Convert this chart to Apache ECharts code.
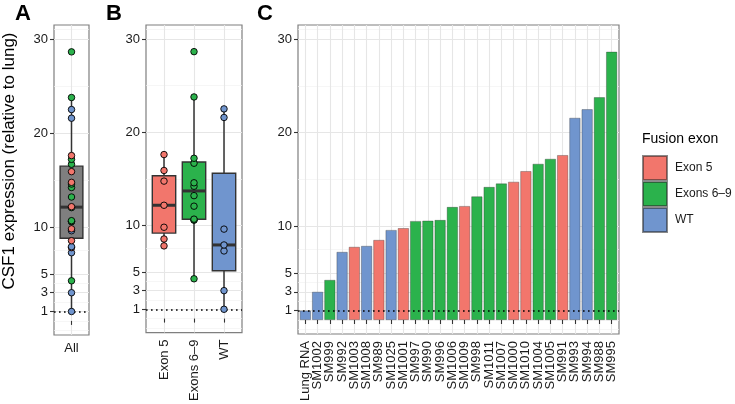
<!DOCTYPE html>
<html><head><meta charset="utf-8">
<script src="https://cdn.jsdelivr.net/npm/echarts@6/dist/echarts.min.js"></script>
<style>html,body{margin:0;padding:0;background:#fff}#c{width:735px;height:404px}</style>
</head><body><div id="c"></div>
<script>
const samples = ['Lung RNA','SM1002','SM999','SM992','SM1003','SM1008','SM989','SM1025','SM1001','SM997','SM990','SM996','SM1006','SM1009','SM998','SM1011','SM1007','SM1000','SM1010','SM1004','SM1005','SM991','SM993','SM994','SM988','SM995'];
const values = [1.0,3.0,4.27,7.26,7.8,7.9,8.54,9.6,9.8,10.56,10.6,10.67,12.06,12.16,13.19,14.2,14.57,14.75,15.89,16.67,17.2,17.6,21.58,22.5,23.78,28.64];
const groups = ['WT','WT','Exons 6–9','WT','Exon 5','WT','Exon 5','WT','Exon 5','Exons 6–9','Exons 6–9','Exons 6–9','Exons 6–9','Exon 5','Exons 6–9','Exons 6–9','Exons 6–9','Exon 5','Exon 5','Exons 6–9','Exons 6–9','Exon 5','WT','WT','Exons 6–9','Exons 6–9'];
const groupNames = ['Exon 5','Exons 6–9','WT'];
const groupColors = ['#F2766C','#2BB24C','#7095CE'];
const allLabel = ['All'];
const yTicks = [1,3,5,10,20,30];
const yMinor = [-1,0,2,4,7.5,15,25,31];

const FONT = 'Liberation Sans, Arial, Helvetica, sans-serif';
const colorOf = g => groupColors[groupNames.indexOf(g)];

function q7(sorted, p) {
  const h = (sorted.length - 1) * p, lo = Math.floor(h), hi = Math.ceil(h);
  return sorted[lo] + (h - lo) * (sorted[hi] - sorted[lo]);
}
function boxStats(arr) {
  const s = arr.slice().sort((a, b) => a - b);
  const q1 = q7(s, 0.25), med = q7(s, 0.5), q3 = q7(s, 0.75), iqr = q3 - q1;
  const lo = Math.min(...s.filter(v => v >= q1 - 1.5 * iqr));
  const hi = Math.max(...s.filter(v => v <= q3 + 1.5 * iqr));
  return [lo, q1, med, q3, hi];
}

const boxA = [[1, ...boxStats(values)]];
const boxAColors = ['#7f7f7f'];
const boxB = groupNames.map((g, i) => [i + 1, ...boxStats(values.filter((v, j) => groups[j] === g))]);

function makeRender(colors) {
  return function (params, api) {
    const x = api.value(0), hw = 0.39;
    const pLo = api.coord([x, api.value(1)]);
    const pQ1 = api.coord([x - hw, api.value(2)]);
    const pMed = api.coord([x - hw, api.value(3)]);
    const pMedR = api.coord([x + hw, api.value(3)]);
    const pQ3 = api.coord([x - hw, api.value(4)]);
    const pQ3R = api.coord([x + hw, api.value(4)]);
    const pHi = api.coord([x, api.value(5)]);
    const st = { stroke: '#333', lineWidth: 1.5 };
    return { type: 'group', children: [
      { type: 'line', shape: { x1: pLo[0], y1: pLo[1], x2: pLo[0], y2: pQ1[1] }, style: st },
      { type: 'line', shape: { x1: pHi[0], y1: pHi[1], x2: pHi[0], y2: pQ3[1] }, style: st },
      { type: 'rect', shape: { x: pQ3[0], y: pQ3[1], width: pQ3R[0] - pQ3[0], height: pQ1[1] - pQ3[1] },
        style: { fill: colors[params.dataIndex], stroke: '#333', lineWidth: 1.4 } },
      { type: 'line', shape: { x1: pMed[0], y1: pMed[1], x2: pMedR[0], y2: pMed[1] }, style: { stroke: '#333', lineWidth: 3 } }
    ]};
  };
}

const grids = [
  { left: 54, top: 25, width: 35, height: 310 },
  { left: 146, top: 25, width: 96, height: 310 },
  { left: 298, top: 25, width: 321, height: 310 }
].map(g => Object.assign(g, { show: true, borderColor: '#7f7f7f', borderWidth: 1.2, backgroundColor: '#fff', containLabel: false }));

const yAxes = [];
[0, 1, 2].forEach(i => {
  yAxes.push({
    type: 'value', gridIndex: i, min: -1.5, max: 31.5,
    axisLine: { show: false },
    axisTick: { show: true, customValues: yTicks, length: 4, lineStyle: { color: '#333', width: 1.1 } },
    axisLabel: { customValues: yTicks, fontSize: 13, color: '#1a1a1a', margin: 6, fontFamily: FONT, showMinLabel: true, showMaxLabel: true },
    splitLine: { show: true, lineStyle: { color: '#e6e6e6', width: 1.1 } }
  });
  yAxes.push({
    type: 'value', gridIndex: i, min: -1.5, max: 31.5,
    axisLine: { show: false },
    axisTick: { show: false, customValues: yMinor },
    axisLabel: { show: false, customValues: yMinor },
    splitLine: { show: true, lineStyle: { color: '#f2f2f2', width: 0.7 } }
  });
});

// one x axis; 'which' selects all positions, or only odd / even ones (to keep dense rotated labels from being culled)
function xAxis(i, labels, rotate, which) {
  const n = labels.length;
  let cv = labels.map((_, k) => k + 1);
  if (which === 'odd') cv = cv.filter(v => v % 2 === 1);
  if (which === 'even') cv = cv.filter(v => v % 2 === 0);
  return {
    type: 'value', gridIndex: i, min: 0.4, max: n + 0.6, position: 'bottom',
    axisLine: { show: false },
    axisTick: { show: true, customValues: cv, length: 4, lineStyle: { color: '#333', width: 1.1 } },
    axisLabel: { customValues: cv, rotate: rotate, fontSize: 13, color: '#1a1a1a', margin: 7, fontFamily: FONT,
      showMinLabel: true, showMaxLabel: true,
      formatter: v => labels[Math.round(v) - 1] },
    splitLine: { show: true, lineStyle: { color: '#e6e6e6', width: 1.1 } }
  };
}

const hline = { silent: true, symbol: 'none', label: { show: false },
  lineStyle: { color: '#000', type: [1.6, 3.4], width: 1.6 }, data: [{ yAxis: 1 }] };

const series = [
  { type: 'custom', xAxisIndex: 0, yAxisIndex: 0, renderItem: makeRender(boxAColors), data: boxA,
    encode: { x: 0, y: [1, 2, 3, 4, 5] }, z: 2, markLine: hline },
  { type: 'custom', xAxisIndex: 1, yAxisIndex: 2, renderItem: makeRender(groupColors), data: boxB,
    encode: { x: 0, y: [1, 2, 3, 4, 5] }, z: 2, markLine: hline },
  { type: 'scatter', xAxisIndex: 0, yAxisIndex: 0, symbolSize: 6.5, z: 6,
    data: values.map((v, j) => ({ value: [1, v], itemStyle: { color: colorOf(groups[j]) } })),
    itemStyle: { borderColor: '#000', borderWidth: 0.9, opacity: 1 } },
  { type: 'scatter', xAxisIndex: 1, yAxisIndex: 2, symbolSize: 6.5, z: 6,
    data: values.map((v, j) => ({ value: [groupNames.indexOf(groups[j]) + 1, v], itemStyle: { color: colorOf(groups[j]) } })),
    itemStyle: { borderColor: '#000', borderWidth: 0.9, opacity: 1 } }
];
groupNames.forEach((g, gi) => {
  const s = {
    type: 'bar', name: g, xAxisIndex: 2, yAxisIndex: 4, barWidth: 11, barGap: '-100%',
    itemStyle: { color: groupColors[gi], borderColor: 'rgba(40,40,40,0.55)', borderWidth: 0.6 },
    data: values.map((v, j) => groups[j] === g ? [j + 1, v] : null).filter(d => d)
  };
  if (gi === 2) s.markLine = hline;
  series.push(s);
});

const option = {
  animation: false,
  backgroundColor: '#fff',
  textStyle: { fontFamily: FONT },
  grid: grids,
  xAxis: [xAxis(0, allLabel, 0), xAxis(1, groupNames, 90), xAxis(2, samples, 90, 'odd'), xAxis(2, samples, 90, 'even')],
  yAxis: yAxes,
  legend: {
    orient: 'vertical', left: 642, top: 155, itemWidth: 24, itemHeight: 24, itemGap: 0, padding: 0,
    icon: 'rect', selectedMode: false, data: groupNames,
    textStyle: { fontSize: 12, color: '#1a1a1a', fontFamily: FONT, padding: [0, 0, 0, 3] }
  },
  graphic: [
    { type: 'text', left: 15, top: 3, style: { text: 'A', font: 'bold 22px ' + FONT, fill: '#000' } },
    { type: 'text', left: 106, top: 3, style: { text: 'B', font: 'bold 22px ' + FONT, fill: '#000' } },
    { type: 'text', left: 257, top: 3, style: { text: 'C', font: 'bold 22px ' + FONT, fill: '#000' } },
    { type: 'text', left: 642, top: 132, style: { text: 'Fusion exon', font: '14px ' + FONT, fill: '#000' } },
    { type: 'text', x: 9, y: 161, rotation: Math.PI / 2,
      style: { text: 'CSF1 expression (relative to lung)', font: '17px ' + FONT, fill: '#000', align: 'center', verticalAlign: 'middle' } }
  ],
  series: series
};
echarts.init(document.getElementById('c'), null, { renderer: 'canvas' }).setOption(option);
</script>
</body></html>
